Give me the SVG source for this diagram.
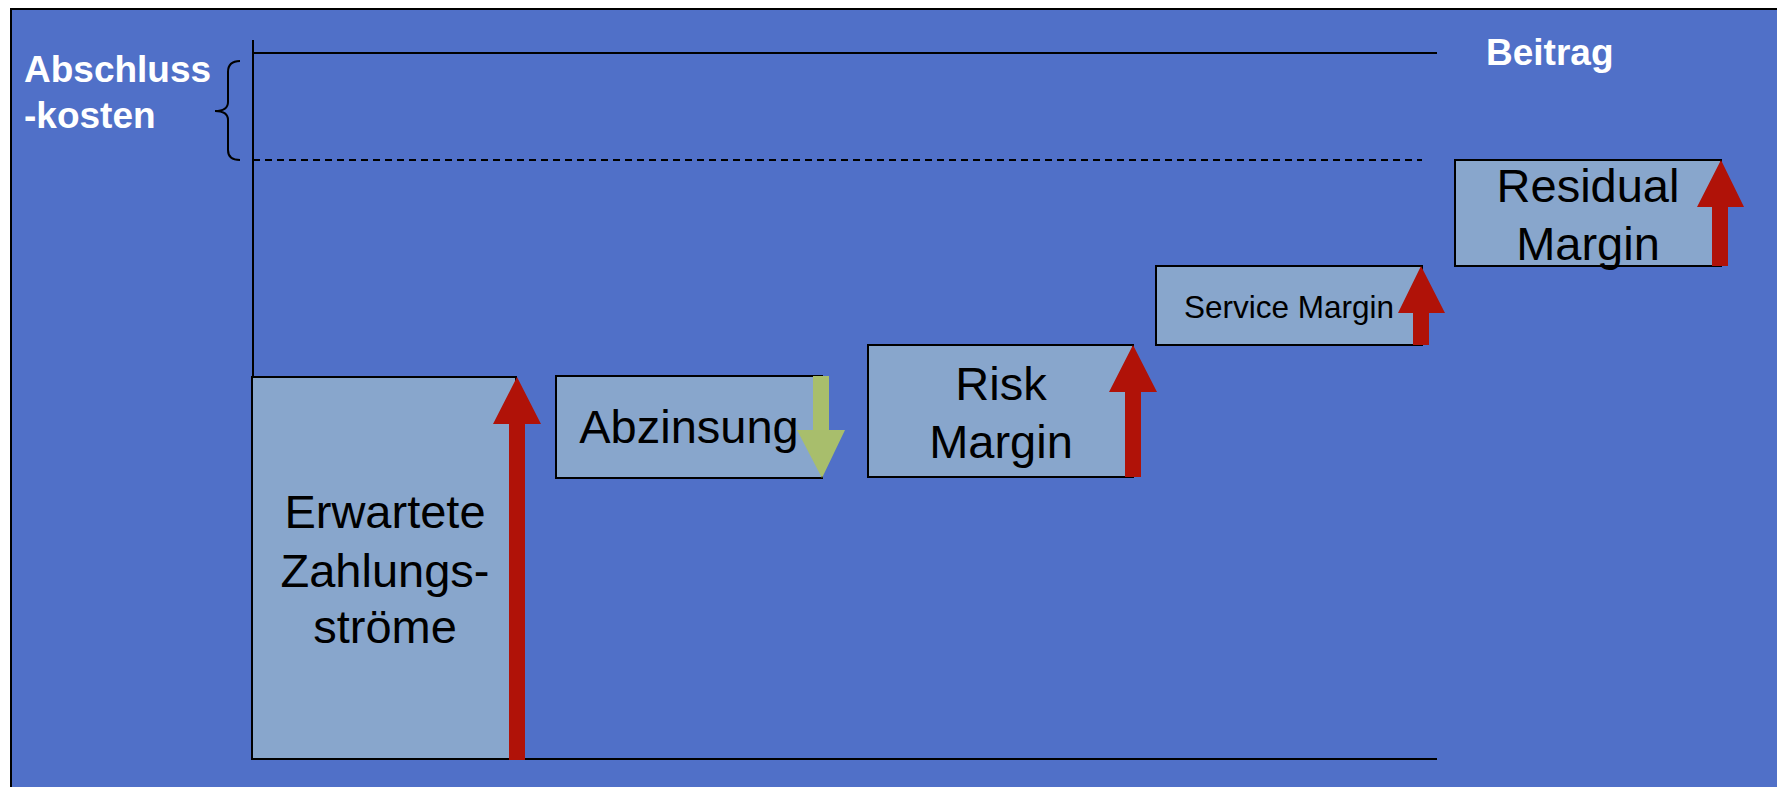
<svg xmlns="http://www.w3.org/2000/svg" width="1777" height="787" viewBox="0 0 1777 787">
<style>
.box{fill:#88A6CC;stroke:#000;stroke-width:2}
.t{font-family:"Liberation Sans",Arial,sans-serif;font-size:47px;fill:#000;text-anchor:middle}
.w{font-family:"Liberation Sans",Arial,sans-serif;font-size:37px;font-weight:bold;fill:#fff}
.ln{stroke:#000;stroke-width:2;fill:none}
.up{fill:#B01208}
.dn{fill:#A8BE6C}
</style>
<rect x="0" y="0" width="1777" height="787" fill="#fff"/>
<rect x="11" y="9" width="1766" height="778" fill="#5070C8"/>
<path d="M11,787 V9 H1777" class="ln" stroke-width="2.5"/>
<g id="axes">
<line x1="253" y1="40" x2="253" y2="760" class="ln"/>
<line x1="253" y1="53" x2="1437" y2="53" class="ln"/>
<line x1="253" y1="160" x2="1422" y2="160" class="ln" stroke-width="1.5" stroke-dasharray="7,5"/>
</g>
<g id="brace">
<path d="M240,61 Q228,61 228,72 V102 Q228,111 215,111 Q228,111 228,120 V150 Q228,160 240,160" class="ln" stroke-width="2"/>
</g>
<g id="label-abschluss">
<text x="24" y="82" class="w">Abschluss</text>
<text x="24" y="128" class="w">-kosten</text>
</g>
<g id="label-beitrag">
<text x="1486" y="65" class="w">Beitrag</text>
</g>
<g id="node-erwartete">
<rect x="252" y="377" width="264" height="382" class="box"/>
<text x="385" y="528" class="t">Erwartete</text>
<text x="385" y="587" class="t">Zahlungs-</text>
<text x="385" y="643" class="t">ströme</text>
</g>
<g id="node-abzinsung">
<rect x="556" y="376" width="266" height="102" class="box"/>
<text x="689" y="443" class="t">Abzinsung</text>
</g>
<g id="node-risk">
<rect x="868" y="345" width="265" height="132" class="box"/>
<text x="1001" y="400" class="t">Risk</text>
<text x="1001" y="458" class="t">Margin</text>
</g>
<g id="node-service">
<rect x="1156" y="266" width="266" height="79" class="box"/>
<text x="1289" y="318" class="t" style="font-size:31.5px">Service Margin</text>
</g>
<g id="node-residual">
<rect x="1455" y="160" width="266" height="106" class="box"/>
<text x="1588" y="202" class="t">Residual</text>
<text x="1588" y="260" class="t">Margin</text>
</g>
<g id="connectors">
<line x1="253" y1="759" x2="1437" y2="759" class="ln" stroke-width="2.5"/>
<polygon class="up" points="517,377 541,424 525,424 525,760 509,760 509,424 493,424"/>
<polygon class="dn" points="813,376 829,376 829,430 845,430 822,478 797,430 813,430"/>
<polygon class="up" points="1133,345 1157,392 1141,392 1141,477 1125,477 1125,392 1109,392"/>
<polygon class="up" points="1421,266 1445,313 1429,313 1429,345 1413,345 1413,313 1398,313"/>
<polygon class="up" points="1721,160 1744,207 1728,207 1728,266 1712,266 1712,207 1697,207"/>
</g>
</svg>
